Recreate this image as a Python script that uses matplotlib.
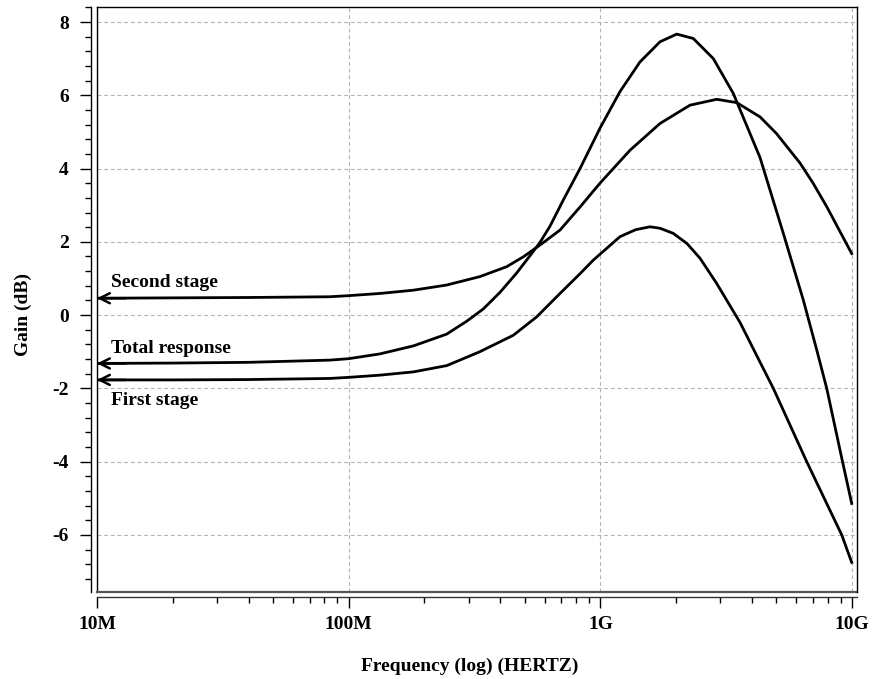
import numpy as np
import matplotlib
matplotlib.use("Agg")
from matplotlib import pyplot as plt
from matplotlib.ticker import FixedLocator, FixedFormatter, MultipleLocator
from matplotlib.lines import Line2D

# values (frequency in MHz, gain in dB)
total_f = [10, 20, 40, 84, 100, 133, 181, 245, 294, 343, 399, 465, 525, 575, 631, 712, 830,
           996, 1196, 1436, 1725, 2010, 2340, 2810, 3373, 4307, 5330, 6400, 7235, 7928, 9093, 9963]
total_g = [-1.32, -1.31, -1.29, -1.23, -1.19, -1.06, -0.84, -0.52, -0.17, 0.17, 0.62, 1.15, 1.62,
           1.98, 2.43, 3.14, 4.0, 5.1, 6.1, 6.91, 7.46, 7.67, 7.55, 7.0, 6.05, 4.3, 2.23, 0.41,
           -0.95, -2.0, -3.9, -5.14]

second_f = [10, 20, 40, 84, 100, 133, 181, 245, 332, 424, 494, 575, 691, 830, 996, 1311,
            1725, 2270, 2899, 3480, 4307, 5000, 6209, 7000, 7928, 9963]
second_g = [0.46, 0.47, 0.48, 0.50, 0.53, 0.59, 0.68, 0.82, 1.05, 1.32, 1.59, 1.91, 2.32, 2.95,
            3.6, 4.5, 5.23, 5.73, 5.89, 5.8, 5.41, 4.96, 4.15, 3.6, 2.96, 1.68]

first_f = [10, 20, 40, 84, 100, 133, 181, 245, 332, 451, 558, 691, 830, 937, 1196, 1380,
           1574, 1725, 1948, 2210, 2488, 2899, 3586, 4175, 4864, 6600, 9093, 9963]
first_g = [-1.77, -1.77, -1.76, -1.73, -1.70, -1.64, -1.55, -1.38, -1.0, -0.55, -0.05, 0.59,
           1.13, 1.5, 2.14, 2.33, 2.41, 2.37, 2.23, 1.95, 1.55, 0.86, -0.2, -1.1, -2.0,
           -4.0, -6.0, -6.75]

x_ticks = [1e7, 1e8, 1e9, 1e10]
x_labels = ["10M", "100M", "1G", "10G"]
y_ticks = [-6, -4, -2, 0, 2, 4, 6, 8]

plt.rcParams['font.family'] = ['Liberation Serif', 'DejaVu Serif']
plt.rcParams['font.weight'] = 'bold'
plt.rcParams['axes.unicode_minus'] = False

fig = plt.figure(figsize=(8.78, 6.79), dpi=100)
ax = fig.add_axes([0.1105, 0.1281, 0.8656, 0.8616])

for f, g in [(total_f, total_g), (second_f, second_g), (first_f, first_g)]:
    ax.plot(np.array(f) * 1e6, g, color='black', lw=2.0, solid_joinstyle='round')

ax.set_xscale('log')
ax.set_xlim(1e7, 1.046e10)
ax.set_ylim(-7.56, 8.41)

ax.xaxis.set_major_locator(FixedLocator(x_ticks))
ax.xaxis.set_major_formatter(FixedFormatter(x_labels))
minor = [m * 10 ** d for d in range(7, 10) for m in range(2, 10)]
ax.xaxis.set_minor_locator(FixedLocator(minor))
ax.yaxis.set_major_locator(FixedLocator(y_ticks))
ax.yaxis.set_minor_locator(MultipleLocator(0.4))

ax.grid(True, which='major', color='#b4b4b4', lw=0.8, linestyle=(0, (3.5, 2.5)))

ax.tick_params(which='major', length=8, width=1, labelsize=14, pad=6)
ax.tick_params(which='minor', length=4.3, width=1)
ax.tick_params(axis='y', which='major', pad=8)

ax.spines['left'].set_position(('outward', 4.3))
ax.spines['bottom'].set_position(('outward', 3.6))
ax.spines['bottom'].set_color('#333333')
for s in ax.spines.values():
    s.set_linewidth(1.0)

# inner plot frame (left and bottom edges)
ax.add_line(Line2D([0, 0], [0, 1], transform=ax.transAxes, color='black', lw=1.0, clip_on=False))
ax.add_line(Line2D([0, 1], [0, 0], transform=ax.transAxes, color='#555555', lw=1.6, clip_on=False))

ax.set_xlabel("Frequency (log) (HERTZ)", fontsize=14, fontweight='bold')
ax.set_ylabel("Gain (dB)", fontsize=14, fontweight='bold')
ax.xaxis.set_label_coords(0.491, -0.113)
ax.yaxis.set_label_coords(-0.0855, 0.475)

labels = [("Second stage", second_g[0], 0.76), ("Total response", total_g[0], -1.04),
          ("First stage", first_g[0], -2.46)]
for txt, g0, ty in labels:
    ax.annotate('', xy=(1e7, g0), xytext=(1.3e7, g0),
                arrowprops=dict(arrowstyle='->', lw=1.8, color='black',
                                mutation_scale=18, shrinkA=0, shrinkB=0))
    ax.text(1.137e7, ty, txt, fontsize=14, fontweight='bold', va='baseline', ha='left')

fig.savefig("out.png", dpi=100)
